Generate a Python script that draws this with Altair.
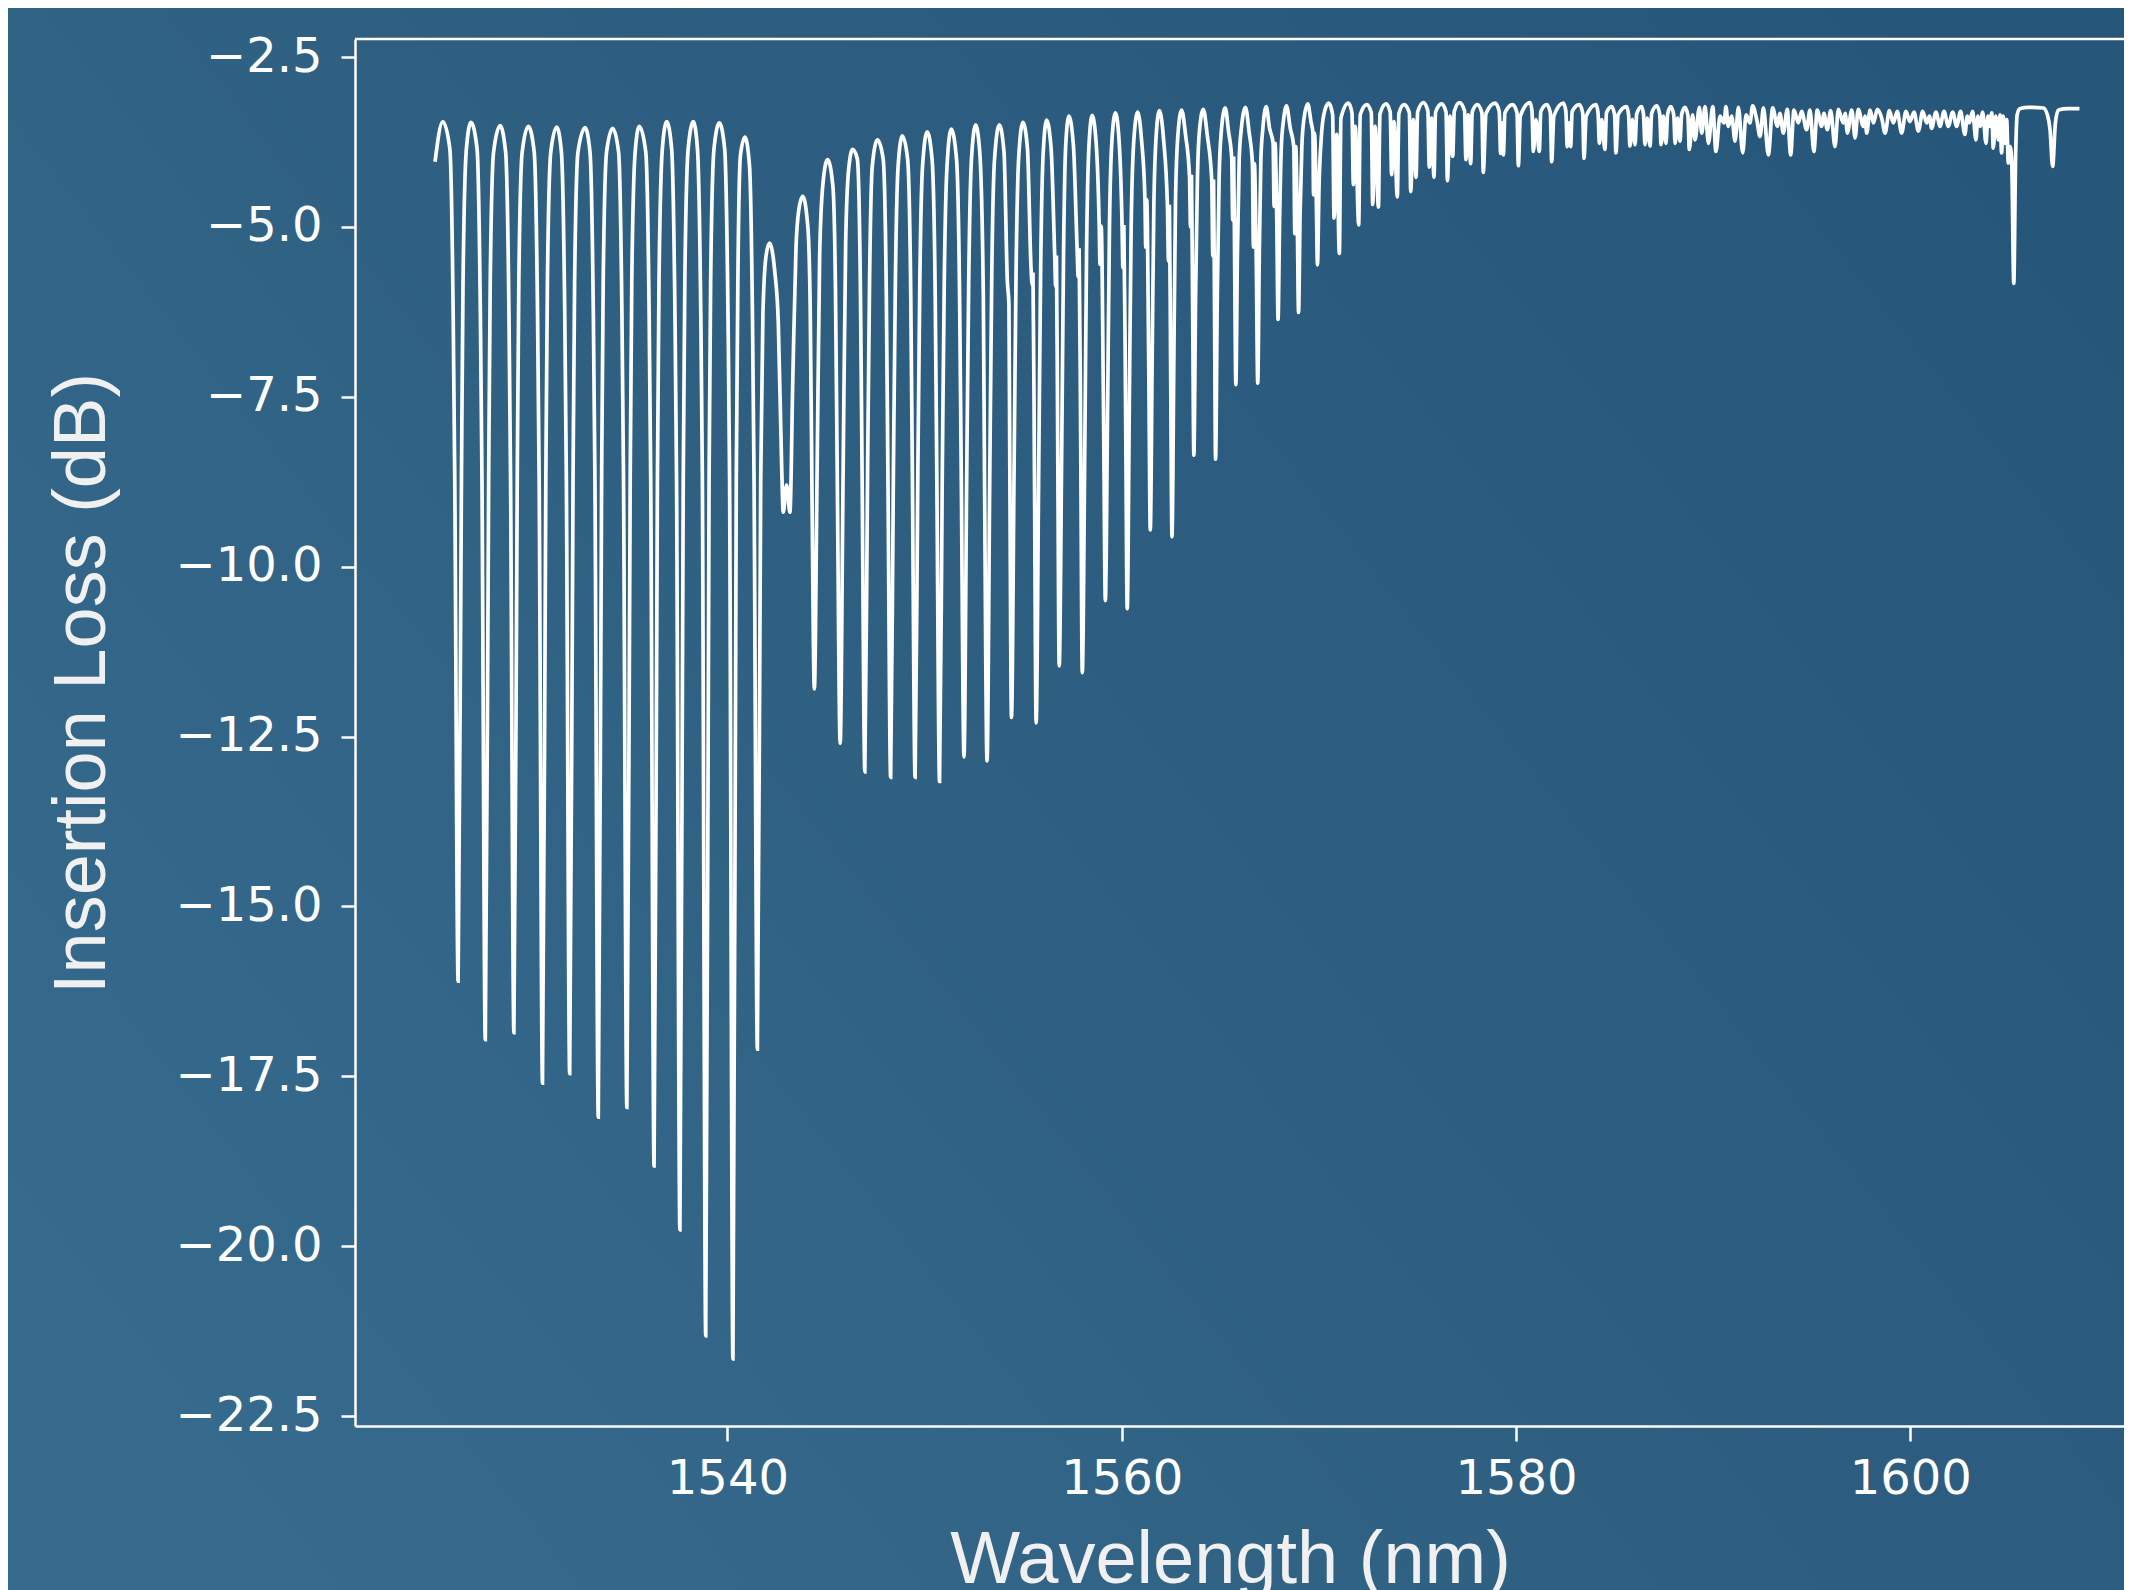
import altair as alt
import pandas as pd

# ---- Section 1: deep fringes 1525-1542 nm (wavelength nm, insertion loss dB)
wl_s1 = [1525.17, 1525.56,
         1525.92, 1526.09, 1526.17, 1526.34, 1526.51, 1526.59, 1526.76, 1526.99,
         1527.30, 1527.47, 1527.55, 1527.72, 1527.89, 1527.97, 1528.14, 1528.47,
         1528.75, 1528.92, 1529.00, 1529.17, 1529.34, 1529.42, 1529.59, 1529.90,
         1530.20, 1530.37, 1530.45, 1530.62, 1530.79, 1530.87, 1531.04, 1531.34,
         1531.58, 1531.75, 1531.83, 1532.00, 1532.17, 1532.25, 1532.42, 1532.78,
         1533.03, 1533.20, 1533.28, 1533.45, 1533.62, 1533.70, 1533.87, 1534.18,
         1534.48, 1534.65, 1534.73, 1534.90, 1535.07, 1535.15, 1535.32, 1535.53,
         1535.86, 1536.03, 1536.11, 1536.28, 1536.45, 1536.53, 1536.70, 1536.92,
         1537.17, 1537.34, 1537.42, 1537.59, 1537.76, 1537.84, 1538.01, 1538.27,
         1538.48, 1538.65, 1538.73, 1538.90, 1539.07, 1539.15, 1539.32, 1539.59,
         1539.86, 1540.03, 1540.11, 1540.28, 1540.45, 1540.53, 1540.66, 1540.89,
         1541.12, 1541.27, 1541.35, 1541.52, 1541.69, 1541.80, 1541.95]
il_s1 = [-4.04, -3.45,
         -3.85, -6.30, -8.70, -16.10, -8.70, -5.80, -3.85, -3.46,
         -3.85, -6.30, -8.70, -16.96, -8.70, -5.80, -3.90, -3.51,
         -3.90, -6.30, -8.70, -16.86, -8.70, -5.80, -3.90, -3.52,
         -3.90, -6.30, -8.70, -17.60, -8.70, -5.80, -3.90, -3.53,
         -3.90, -6.30, -8.70, -17.46, -8.70, -5.80, -3.90, -3.54,
         -3.90, -6.30, -8.70, -18.10, -8.70, -5.80, -3.90, -3.55,
         -3.90, -6.30, -8.70, -17.96, -8.70, -5.80, -3.90, -3.52,
         -3.90, -6.30, -8.70, -18.82, -8.70, -5.80, -3.85, -3.45,
         -3.85, -6.30, -8.70, -19.76, -8.70, -5.80, -3.85, -3.45,
         -3.85, -6.30, -8.70, -21.32, -8.70, -5.80, -3.85, -3.47,
         -3.85, -6.30, -8.70, -21.66, -8.70, -5.80, -3.95, -3.68,
         -4.10, -6.30, -8.70, -17.10, -8.70, -6.30, -5.45]

# ---- Section 2: fringes 1542-1570 nm
wl_s2 = [1542.13, 1542.40, 1542.58, 1542.75, 1542.83, 1543.00, 1543.17, 1543.32, 1543.48, 1543.62,
         1543.82, 1544.08, 1544.20, 1544.28, 1544.41, 1544.55, 1544.68, 1544.85,
         1545.08, 1545.35, 1545.48, 1545.57, 1545.72, 1545.87, 1546.00, 1546.15,
         1546.35, 1546.59, 1546.75, 1546.83, 1546.97, 1547.11, 1547.21, 1547.35,
         1547.61, 1547.90, 1548.06, 1548.14, 1548.28, 1548.42, 1548.52, 1548.66,
         1548.87, 1549.14, 1549.30, 1549.38, 1549.52, 1549.66, 1549.76, 1549.90,
         1550.13, 1550.38, 1550.54, 1550.62, 1550.76, 1550.90, 1551.00, 1551.14,
         1551.35, 1551.62, 1551.78, 1551.86, 1552.00, 1552.14, 1552.24, 1552.38,
         1552.59, 1552.80, 1552.98, 1553.04, 1553.17, 1553.31, 1553.41, 1553.55,
         1553.79, 1554.03, 1554.20, 1554.28, 1554.32, 1554.41, 1554.54, 1554.64, 1554.78,
         1554.99, 1555.22, 1555.40, 1555.46, 1555.50, 1555.57, 1555.66, 1555.79, 1555.89, 1556.02,
         1556.19, 1556.42, 1556.60, 1556.65, 1556.69, 1556.75, 1556.83, 1556.96, 1557.05, 1557.16,
         1557.32, 1557.55, 1557.74, 1557.79, 1557.84, 1557.92, 1558.00, 1558.13, 1558.22, 1558.34,
         1558.50, 1558.70, 1558.86, 1558.90, 1558.96, 1559.08, 1559.17, 1559.29, 1559.38, 1559.50,
         1559.68, 1559.86, 1560.02, 1560.06, 1560.11, 1560.20, 1560.28, 1560.39, 1560.48, 1560.62,
         1560.81, 1561.00, 1561.18, 1561.22, 1561.27, 1561.37, 1561.45, 1561.55, 1561.63, 1561.75,
         1561.91, 1562.12, 1562.32, 1562.37, 1562.42, 1562.48, 1562.55, 1562.65, 1562.73, 1562.85,
         1563.04, 1563.24, 1563.44, 1563.49, 1563.54, 1563.60, 1563.66, 1563.75, 1563.84, 1563.94,
         1564.14, 1564.34, 1564.57, 1564.62, 1564.66, 1564.71, 1564.76, 1564.85, 1564.94, 1565.05,
         1565.25, 1565.42, 1565.58, 1565.63, 1565.68, 1565.73, 1565.79, 1565.87, 1565.96, 1566.07,
         1566.28, 1566.46, 1566.63, 1566.68, 1566.73, 1566.83, 1566.90, 1566.98, 1567.06, 1567.16,
         1567.33, 1567.50, 1567.68, 1567.73, 1567.78, 1567.87, 1567.93, 1568.01, 1568.10, 1568.20,
         1568.36, 1568.55, 1568.73, 1568.78, 1568.83, 1568.91, 1568.97, 1569.05, 1569.14, 1569.25,
         1569.44, 1569.60, 1569.70, 1569.73, 1569.78, 1569.87, 1569.93, 1570.01, 1570.12, 1570.25]
il_s2 = [-5.24, -5.65, -6.40, -8.50, -9.20, -8.80, -9.20, -7.20, -5.30, -4.75,
         -4.55, -5.00, -6.20, -8.60, -11.80, -8.60, -5.40, -4.35,
         -4.01, -4.40, -5.90, -8.60, -12.60, -8.60, -5.20, -4.15,
         -3.86, -4.00, -6.00, -8.60, -13.02, -8.60, -5.80, -4.10,
         -3.72, -4.00, -6.00, -8.60, -13.10, -8.60, -5.80, -4.10,
         -3.66, -4.00, -6.00, -8.60, -13.10, -8.60, -5.80, -4.10,
         -3.60, -4.00, -6.00, -8.60, -13.16, -8.60, -5.80, -4.10,
         -3.56, -4.00, -6.10, -8.60, -12.80, -8.60, -5.80, -4.00,
         -3.50, -3.90, -6.00, -8.60, -12.86, -8.60, -5.70, -4.00,
         -3.50, -3.90, -5.80, -6.15, -8.30, -12.22, -8.60, -5.70, -3.95,
         -3.46, -3.85, -5.60, -5.85, -5.70, -8.40, -12.30, -8.60, -5.60, -3.90,
         -3.43, -3.85, -5.41, -5.87, -5.45, -8.00, -11.46, -8.20, -5.40, -3.80,
         -3.37, -3.80, -5.34, -5.73, -5.34, -8.20, -11.56, -8.20, -5.30, -3.80,
         -3.36, -3.75, -4.99, -5.55, -4.99, -7.80, -10.50, -7.50, -5.00, -3.75,
         -3.32, -3.70, -5.00, -5.60, -5.00, -7.80, -10.62, -7.50, -5.00, -3.70,
         -3.31, -3.70, -4.60, -5.30, -4.60, -7.00, -9.46, -6.80, -4.70, -3.65,
         -3.29, -3.70, -4.70, -5.50, -4.70, -7.00, -9.56, -6.80, -4.60, -3.65,
         -3.28, -3.65, -4.26, -5.00, -4.26, -6.30, -8.36, -6.00, -4.30, -3.60,
         -3.27, -3.65, -4.33, -5.43, -4.33, -6.30, -8.42, -6.00, -4.30, -3.60,
         -3.25, -3.60, -3.99, -4.90, -3.99, -5.60, -7.32, -5.40, -4.00, -3.55,
         -3.24, -3.60, -4.07, -5.30, -4.07, -5.60, -7.30, -5.40, -4.00, -3.55,
         -3.23, -3.55, -3.77, -4.70, -3.77, -5.00, -6.36, -4.90, -3.80, -3.45,
         -3.22, -3.55, -3.82, -5.10, -3.82, -5.00, -6.26, -4.80, -3.80, -3.40,
         -3.19, -3.45, -3.62, -4.53, -3.62, -4.60, -5.56, -4.40, -3.70, -3.35]

# ---- Section 3: double-dip fringes 1570.5-1589.8 nm
wl_s3 = [1570.50, 1570.70, 1570.77, 1570.90, 1571.04, 1571.12,
         1571.50, 1571.68, 1571.75, 1571.85, 1572.02, 1572.10,
         1572.43, 1572.66, 1572.73, 1572.85, 1573.02, 1573.10,
         1573.41, 1573.62, 1573.69, 1573.81, 1573.98, 1574.06,
         1574.32, 1574.59, 1574.66, 1574.79, 1574.93, 1575.01,
         1575.30, 1575.53, 1575.60, 1575.72, 1575.84, 1575.92,
         1576.23, 1576.45, 1576.52, 1576.65, 1576.79, 1576.87,
         1577.13, 1577.39, 1577.46, 1577.58, 1577.70, 1577.78,
         1578.04, 1578.27, 1578.34, 1578.48,
         1578.94, 1579.15, 1579.22, 1579.29, 1579.36, 1579.44,
         1579.83, 1580.05, 1580.12, 1580.22,
         1580.71, 1580.81, 1580.88, 1581.01, 1581.18, 1581.26,
         1581.56, 1581.74, 1581.81, 1581.92,
         1582.40, 1582.53, 1582.60, 1582.69, 1582.77, 1582.85,
         1583.21, 1583.38, 1583.45, 1583.56,
         1584.06, 1584.16, 1584.23, 1584.35, 1584.51, 1584.59,
         1584.85, 1585.00, 1585.07, 1585.18,
         1585.61, 1585.71, 1585.78, 1585.90, 1586.04, 1586.12,
         1586.37, 1586.47, 1586.54, 1586.66, 1586.80, 1586.88,
         1587.14, 1587.29, 1587.36, 1587.47, 1587.61, 1587.69,
         1587.85, 1588.00, 1588.07, 1588.19, 1588.32, 1588.40,
         1588.57, 1588.72, 1588.79, 1588.96, 1589.08,
         1589.30, 1589.42, 1589.59, 1589.76]
il_s3 = [-3.18, -3.35, -4.87, -3.64, -5.39, -3.40,
         -3.18, -3.32, -4.38, -3.52, -4.97, -3.35,
         -3.20, -3.32, -4.67, -3.52, -4.71, -3.34,
         -3.19, -3.31, -4.23, -3.45, -4.56, -3.33,
         -3.20, -3.32, -4.48, -3.42, -4.27, -3.31,
         -3.17, -3.29, -4.12, -3.40, -4.27, -3.31,
         -3.19, -3.31, -4.32, -3.37, -3.96, -3.30,
         -3.17, -3.29, -4.01, -3.35, -4.07, -3.31,
         -3.20, -3.32, -4.20, -3.33,
         -3.18, -3.30, -3.92, -3.47, -3.94, -3.32,
         -3.20, -3.32, -4.10, -3.37,
         -3.17, -3.29, -3.89, -3.42, -3.89, -3.30,
         -3.20, -3.32, -4.04, -3.37,
         -3.18, -3.30, -3.82, -3.47, -3.82, -3.30,
         -3.20, -3.32, -3.99, -3.37,
         -3.20, -3.32, -3.77, -3.42, -3.86, -3.32,
         -3.23, -3.35, -3.91, -3.35,
         -3.23, -3.35, -3.81, -3.42, -3.79, -3.34,
         -3.23, -3.35, -3.79, -3.40, -3.81, -3.33,
         -3.22, -3.34, -3.79, -3.37, -3.77, -3.34,
         -3.23, -3.35, -3.77, -3.40, -3.74, -3.35,
         -3.24, -3.36, -3.86, -3.35, -3.72,
         -3.24, -3.62, -3.23, -3.77]

# ---- Section 4: fine ripple 1590-1608.6 nm and the two isolated dips
wl_s4 = [1589.98, 1590.14, 1590.35, 1590.55, 1590.65, 1590.77, 1590.94, 1591.11,
         1591.28, 1591.50, 1591.67, 1591.87, 1592.00, 1592.21, 1592.38, 1592.55,
         1592.80, 1593.02, 1593.26, 1593.39, 1593.56, 1593.76, 1593.93, 1594.10,
         1594.32, 1594.49, 1594.74, 1594.91, 1595.11, 1595.28, 1595.50, 1595.62,
         1595.79, 1595.96, 1596.18, 1596.35, 1596.60, 1596.70, 1596.81, 1597.03,
         1597.20, 1597.36, 1597.62, 1597.70, 1597.79, 1597.96, 1598.13, 1598.33,
         1598.55, 1598.72, 1598.94, 1599.14, 1599.34, 1599.56, 1599.78, 1599.98,
         1600.19, 1600.41, 1600.63, 1600.83, 1600.97, 1601.08, 1601.30, 1601.51,
         1601.71, 1601.93, 1602.15, 1602.35, 1602.55, 1602.77, 1602.89, 1602.99,
         1603.16, 1603.33, 1603.43, 1603.54, 1603.67, 1603.84, 1603.94, 1604.04,
         1604.13, 1604.21, 1604.33, 1604.47, 1604.55, 1604.63, 1604.72, 1604.80,
         1604.89, 1604.97, 1605.06, 1605.14, 1605.25, 1605.34, 1605.42, 1605.55,
         1606.00, 1606.75, 1606.95, 1607.09, 1607.22, 1607.36, 1607.51, 1608.00,
         1608.58]
il_s4 = [-3.23, -3.89, -3.37, -3.47, -3.23, -3.52, -3.37, -3.74,
         -3.24, -3.91, -3.35, -3.47, -3.22, -3.42, -3.67, -3.25,
         -3.94, -3.25, -3.52, -3.33, -3.62, -3.27, -3.94, -3.28,
         -3.47, -3.30, -3.57, -3.28, -3.89, -3.28, -3.52, -3.33,
         -3.57, -3.29, -3.82, -3.27, -3.47, -3.33, -3.62, -3.28,
         -3.69, -3.27, -3.52, -3.37, -3.62, -3.28, -3.47, -3.27,
         -3.40, -3.62, -3.29, -3.47, -3.30, -3.62, -3.30, -3.45,
         -3.31, -3.59, -3.30, -3.47, -3.37, -3.55, -3.31, -3.52,
         -3.30, -3.52, -3.31, -3.52, -3.30, -3.64, -3.37, -3.47,
         -3.30, -3.72, -3.37, -3.52, -3.31, -3.77, -3.37, -3.52,
         -3.32, -3.84, -3.37, -3.72, -3.35, -3.91, -3.37, -3.77,
         -3.42, -4.06, -3.82, -4.00, -5.83, -4.00, -3.35, -3.26,
         -3.24, -3.25, -3.35, -3.57, -4.11, -3.47, -3.28, -3.26,
         -3.26]

# axis ticks and labels
x_ticks = [1540, 1560, 1580, 1600]
y_ticks = [-2.5, -5.0, -7.5, -10.0, -12.5, -15.0, -17.5, -20.0, -22.5]
x_title = "Wavelength (nm)"
y_title = "Insertion Loss (dB)"

wl = wl_s1 + wl_s2 + wl_s3 + wl_s4
il = il_s1 + il_s2 + il_s3 + il_s4
assert len(wl) == len(il)
df = pd.DataFrame({"wl": wl, "il": il, "i": list(range(len(wl)))})

W, H = 1769, 1387
PAD_L, PAD_T, PAD_B = 347, 31, 175

x_scale = alt.Scale(domain=[1521.11, 1610.84], nice=False, zero=False)
y_scale = alt.Scale(domain=[-22.647, -2.235], nice=False, zero=False)

bg = alt.Chart(pd.DataFrame({"k": [0]})).mark_rect(
    color=alt.Gradient(
        gradient="linear",
        stops=[alt.GradientStop(color="#366b8d", offset=0),
               alt.GradientStop(color="#2e5f81", offset=0.5),
               alt.GradientStop(color="#26567a", offset=1)],
        x1=0, y1=0.8, x2=1, y2=0.2),
).encode(x=alt.value(-PAD_L), x2=alt.value(W), y=alt.value(-PAD_T), y2=alt.value(H + PAD_B))

line = alt.Chart(df).mark_line(color="#ffffff", strokeWidth=3.7, interpolate="monotone").encode(
    x=alt.X("wl:Q", scale=x_scale,
            axis=alt.Axis(values=x_ticks, format="d", title=x_title,
                          titleX=875, titleY=156, titleAlign="center", titleBaseline="alphabetic",
                          labelPadding=14, tickSize=15, zindex=2)),
    y=alt.Y("il:Q", scale=y_scale,
            axis=alt.Axis(values=y_ticks, format=".1f", title=y_title,
                          titleX=-251, titleY=644, titleAngle=270, titleAlign="center",
                          titleBaseline="alphabetic", labelPadding=19, tickSize=14, zindex=2)),
    order="i:Q",
)

top_spine = alt.Chart(pd.DataFrame({"k": [0]})).mark_rule(color="#ffffff", strokeWidth=2.5).encode(
    x=alt.value(0), x2=alt.value(W), y=alt.value(0))

chart = alt.layer(bg, line, top_spine).properties(
    width=W, height=H,
    padding={"left": PAD_L, "top": PAD_T, "right": 0, "bottom": PAD_B},
    autosize=alt.AutoSizeParams(type="none"),
).configure(background="#2f6082").configure_view(stroke=None).configure_axis(
    grid=False,
    domainColor="#ffffff", domainWidth=2.5,
    tickColor="#ffffff", tickWidth=2.5,
    labelFont="DejaVu Sans", labelFontSize=48, labelColor="#ffffff", labelFlush=False,
    labelOverlap=False,
    titleFont="Liberation Sans", titleFontSize=74, titleFontWeight="normal", titleColor="#f0f0f0",
)

chart.save("out.html", embed_options={"renderer": "svg", "actions": False})
